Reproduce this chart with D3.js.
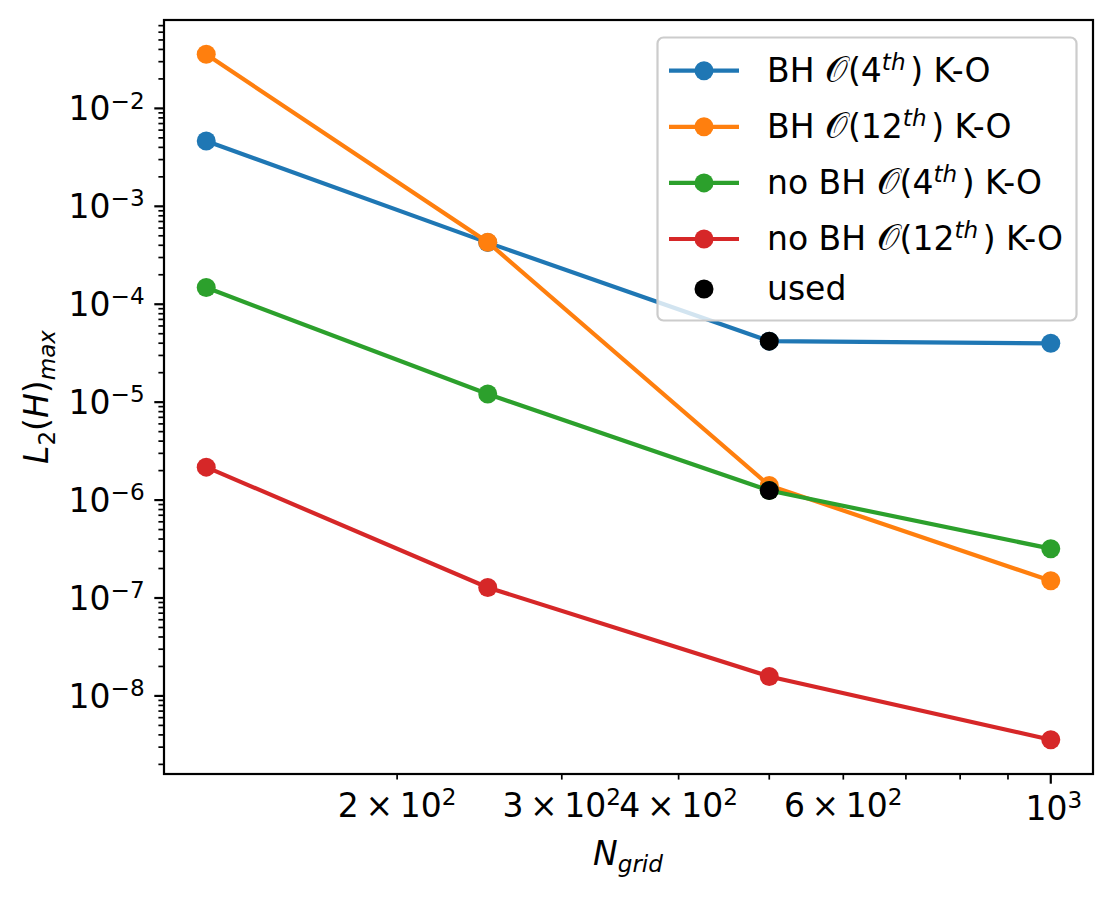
<!DOCTYPE html>
<html>
<head>
<meta charset="utf-8">
<script src="https://d3js.org/d3.v7.min.js"></script>
<style>
  html, body { margin: 0; padding: 0; background: #fff; }
  svg { display: block; font-family: 'DejaVu Sans', sans-serif; }
</style>
</head>
<body>
<script>
// Data
const nGrid = [125, 250, 500, 1000]
const bh4 = [4.65e-3, 4.26e-4, 4.2e-5, 3.99e-5]
const bh12 = [3.57e-2, 4.3e-4, 1.41e-6, 1.5e-7]
const noBh4 = [1.48e-4, 1.21e-5, 1.25e-6, 3.19e-7]
const noBh12 = [2.17e-6, 1.28e-7, 1.58e-8, 3.57e-9]
const usedN = [500, 500]
const usedVal = [4.2e-5, 1.25e-6]

const seriesNames = ['BH', 'BH', 'no BH', 'no BH']
const seriesOrders = ['4', '12', '4', '12']
const seriesColors = ['#1f77b4', '#ff7f0e', '#2ca02c', '#d62728']
const seriesValues = [bh4, bh12, noBh4, noBh12]

const xMinorLabels = [200, 300, 400, 600]
const xMajorLabels = [1000]
const yDecades = [-9, -8, -7, -6, -5, -4, -3, -2, -1]

const width = 1114
const height = 900
const plot = { left: 164, right: 1093, top: 20, bottom: 774 }
const fs = 33
const markerR = 9.5

// matplotlib-like 5% margins in log space
function logExtent (vals) {
  const lo = Math.log10(d3.min(vals))
  const hi = Math.log10(d3.max(vals))
  const m = (hi - lo) * 0.05
  return [Math.pow(10, lo - m), Math.pow(10, hi + m)]
}

const allY = seriesValues.flat().concat(usedVal)
const x = d3.scaleLog().domain(logExtent(nGrid.concat(usedN))).range([plot.left, plot.right])
const y = d3.scaleLog().domain(logExtent(allY)).range([plot.bottom, plot.top])

const svg = d3.select('body').append('svg')
  .attr('width', width)
  .attr('height', height)

// mathtext helper: parts = [[text, style]] style: '' | 'i' | 'sup' | 'sub' | 'isup' | 'isub' | 'big'
function mathText (sel, parts) {
  let shift = 0
  parts.forEach(([t, s]) => {
    const ts = sel.append('tspan').text(t)
    let target = 0
    if (s.includes('sup')) target = -0.36 * fs
    if (s.includes('sub')) target = 0.22 * fs
    if (s.includes('sup') || s.includes('sub')) ts.attr('font-size', fs * 0.7)
    if (s === 'big') ts.attr('font-size', fs * 1.08)
    if (s.startsWith('i')) ts.attr('font-style', 'italic')
    ts.attr('dy', target - shift)
    shift = target
  })
  return sel
}

// Lines and markers
const line = d3.line().x((d, i) => x(nGrid[i])).y(d => y(d))
seriesValues.forEach((vals, k) => {
  svg.append('path')
    .datum(vals)
    .attr('d', line)
    .attr('fill', 'none')
    .attr('stroke', seriesColors[k])
    .attr('stroke-width', 4.2)
  svg.append('g').selectAll('circle')
    .data(vals)
    .join('circle')
    .attr('cx', (d, i) => x(nGrid[i]))
    .attr('cy', d => y(d))
    .attr('r', markerR)
    .attr('fill', seriesColors[k])
})

svg.append('g').selectAll('circle')
  .data(usedVal)
  .join('circle')
  .attr('cx', (d, i) => x(usedN[i]))
  .attr('cy', d => y(d))
  .attr('r', markerR)
  .attr('fill', '#000')

// Y ticks
const yAxis = svg.append('g')
const [y0, y1] = y.domain()
yDecades.forEach(e => {
  for (let m = 1; m <= 9; m++) {
    const v = m * Math.pow(10, e)
    if (v < y0 || v > y1) continue
    const py = y(v)
    const major = m === 1
    yAxis.append('line')
      .attr('x1', plot.left).attr('x2', plot.left - (major ? 9.7 : 5.6))
      .attr('y1', py).attr('y2', py)
      .attr('stroke', '#000').attr('stroke-width', major ? 2.2 : 1.7)
    if (major) {
      const t = yAxis.append('text')
        .attr('x', plot.left - 19.4)
        .attr('y', py + 12)
        .attr('text-anchor', 'end')
        .attr('font-size', fs)
      mathText(t, [['10', ''], ['\u2212' + Math.abs(e), 'sup']])
    }
  }
})

// X ticks
const xAxis = svg.append('g')
const [x0, x1] = x.domain()
;[2, 3].forEach(e => {
  for (let m = 1; m <= 9; m++) {
    const v = m * Math.pow(10, e)
    if (v < x0 || v > x1) continue
    const px = x(v)
    const major = m === 1
    xAxis.append('line')
      .attr('x1', px).attr('x2', px)
      .attr('y1', plot.bottom).attr('y2', plot.bottom + (major ? 9.7 : 5.6))
      .attr('stroke', '#000').attr('stroke-width', major ? 2.2 : 1.7)
  }
})
xMinorLabels.forEach(v => {
  const t = xAxis.append('text')
    .attr('x', x(v))
    .attr('y', 817)
    .attr('text-anchor', 'middle')
    .attr('font-size', fs)
  mathText(t, [[(v / 100) + '\u2009\u00d7\u200910', ''], ['2', 'sup']])
})
xMajorLabels.forEach(v => {
  const t = xAxis.append('text')
    .attr('x', x(v) + 3)
    .attr('y', 820)
    .attr('text-anchor', 'middle')
    .attr('font-size', fs)
  mathText(t, [['10', ''], [String(Math.log10(v)), 'sup']])
})

// Frame
svg.append('rect')
  .attr('x', plot.left).attr('y', plot.top)
  .attr('width', plot.right - plot.left)
  .attr('height', plot.bottom - plot.top)
  .attr('fill', 'none')
  .attr('stroke', '#000')
  .attr('stroke-width', 2.2)

// Axis labels
const xl = svg.append('text')
  .attr('x', 628).attr('y', 865)
  .attr('text-anchor', 'middle')
  .attr('font-size', fs)
mathText(xl, [['N', 'i'], ['grid', 'isub']])

const yl = svg.append('text')
  .attr('transform', 'translate(48,397) rotate(-90)')
  .attr('text-anchor', 'middle')
  .attr('font-size', fs)
mathText(yl, [['L', 'i'], ['2', 'sub'], ['(', ''], ['H', 'i'], [')', ''], ['max', 'isub']])

// Legend
const legend = svg.append('g')
legend.append('rect')
  .attr('x', 657.5).attr('y', 37.5)
  .attr('width', 419).attr('height', 283)
  .attr('rx', 6)
  .attr('fill', 'rgba(255,255,255,0.8)')
  .attr('stroke', '#cccccc')
  .attr('stroke-width', 2.2)

const rowY = [70.7, 126.8, 182.9, 239, 289]
seriesColors.forEach((c, k) => {
  const ry = rowY[k]
  legend.append('line')
    .attr('x1', 669).attr('x2', 739)
    .attr('y1', ry).attr('y2', ry)
    .attr('stroke', c).attr('stroke-width', 4.2)
  legend.append('circle').attr('cx', 704).attr('cy', ry).attr('r', markerR).attr('fill', c)
  const t = legend.append('text')
    .attr('x', 767).attr('y', ry + 11)
    .attr('font-size', fs)
  mathText(t, [[seriesNames[k] + ' ', ''], ['\ud835\udcaa', 'big'], ['(' + seriesOrders[k], ''], ['th\u2009', 'isup'], [') K-O', '']])
})
legend.append('circle').attr('cx', 704).attr('cy', rowY[4]).attr('r', markerR).attr('fill', '#000')
legend.append('text')
  .attr('x', 767).attr('y', rowY[4] + 11)
  .attr('font-size', fs)
  .text('used')
</script>
</body>
</html>
